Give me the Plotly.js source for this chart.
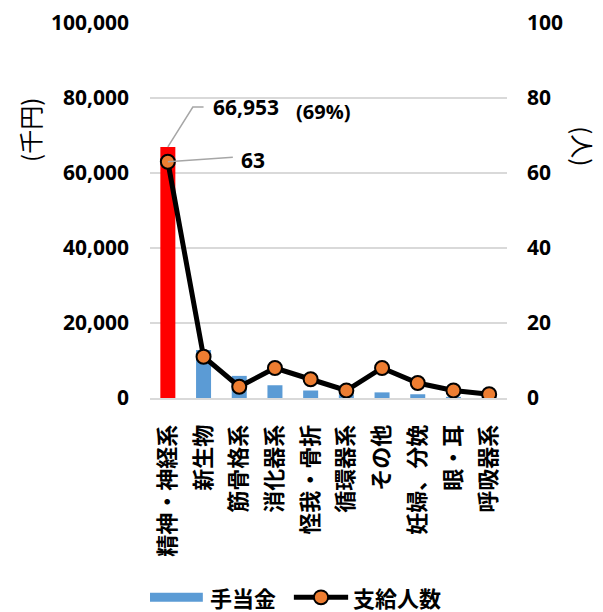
<!DOCTYPE html>
<html>
<head>
<meta charset="utf-8">
<script src="https://cdn.plot.ly/plotly-3.0.1.min.js"></script>
<style>
  html, body { margin: 0; padding: 0; background: #fff; }
  #chart { width: 603px; height: 612px; }
</style>
</head>
<body>
<div id="chart"></div>
<script>
// 疾病分類別の手当金（千円）と支給人数（人）
const categories = ['精神・神経系', '新生物', '筋骨格系', '消化器系', '怪我・骨折',
                    '循環器系', 'その他', '妊婦、分娩', '眼・耳', '呼吸器系'];
const allowance = [66953, 12800, 5900, 3400, 2000, 900, 1500, 1000, 300, 250]; // 手当金（千円）
const recipients = [63, 11, 3, 8, 5, 2, 8, 4, 2, 1];                             // 支給人数（人）
const topShareLabel = '(69%)';
const seriesNames = ['手当金', '支給人数'];

const numFont = 'Open Sans, Noto Sans CJK JP, sans-serif';
const jpFont = 'Noto Sans CJK JP, sans-serif';

// highlight the largest category in red
const barColors = allowance.map((v, i) => i === 0 ? '#ff0000' : '#5b9bd5');

const traces = [
  {
    type: 'bar',
    name: seriesNames[0],
    x: categories,
    y: allowance,
    width: 0.42,
    marker: { color: barColors },
    yaxis: 'y',
    hoverinfo: 'skip'
  },
  {
    type: 'scatter',
    mode: 'lines+markers',
    name: seriesNames[1],
    x: categories,
    y: recipients,
    yaxis: 'y2',
    line: { color: '#000000', width: 5 },
    marker: { color: '#ed7d31', size: 14, line: { color: '#000000', width: 2 } },
    hoverinfo: 'skip'
  }
];

// callout label positions (in axis units)
const barLabelY = 77600;
const lineLabelY = 63.4;

const shapes = [
  // leader from the top of the red bar to its value label
  { type: 'path', xref: 'x', yref: 'y',
    path: `M 0 ${allowance[0]} L 0.7 ${barLabelY} L 1.0 ${barLabelY}`,
    line: { color: '#a6a6a6', width: 1.5 } },
  // leader from the first point to its value label
  { type: 'line', xref: 'x', yref: 'y2',
    x0: 0, y0: recipients[0], x1: 1.82, y1: lineLabelY + 0.8,
    line: { color: '#a6a6a6', width: 1.5 } },
  // legend swatches
  { type: 'rect', xref: 'paper', yref: 'paper',
    x0: 0.0, x1: 0.148, y0: -0.5435, y1: -0.5195,
    fillcolor: '#5b9bd5', line: { width: 0 } },
  { type: 'line', xref: 'paper', yref: 'paper',
    x0: 0.403, x1: 0.555, y0: -0.5315, y1: -0.5315,
    line: { color: '#000000', width: 5 } },
  { type: 'circle', xref: 'paper', yref: 'paper',
    x0: 0.479 - 0.02, x1: 0.479 + 0.02, y0: -0.5315 - 0.0185, y1: -0.5315 + 0.0185,
    fillcolor: '#ed7d31', line: { color: '#000000', width: 2 } }
];

const annotations = [
  { xref: 'x', yref: 'y', x: 1.22, y: barLabelY, xanchor: 'left', yanchor: 'middle',
    text: allowance[0].toLocaleString('en-US'), showarrow: false,
    font: { family: numFont, size: 21, weight: 700, color: '#000' } },
  { xref: 'x', yref: 'y', x: 3.53, y: barLabelY - 1200, xanchor: 'left', yanchor: 'middle',
    text: topShareLabel, showarrow: false,
    font: { family: numFont, size: 20, weight: 700, color: '#000' } },
  { xref: 'x', yref: 'y2', x: 2.0, y: lineLabelY, xanchor: 'left', yanchor: 'middle',
    text: String(recipients[0]), showarrow: false,
    font: { family: numFont, size: 21, weight: 700, color: '#000' } },
  // axis titles
  { xref: 'paper', yref: 'paper', x: -0.336, y: 0.715, textangle: -90,
    xanchor: 'center', yanchor: 'middle',
    text: '(千円)', showarrow: false,
    font: { family: jpFont, size: 24, color: '#000' } },
  { xref: 'paper', yref: 'paper', x: 1.215, y: 0.672, textangle: 90,
    xanchor: 'center', yanchor: 'middle',
    text: '(人)', showarrow: false,
    font: { family: jpFont, size: 24, color: '#000' } },
  // legend labels
  { xref: 'paper', yref: 'paper', x: 0.162, y: -0.5315, xanchor: 'left', yanchor: 'middle',
    text: seriesNames[0], showarrow: false,
    font: { family: jpFont, size: 22, weight: 700, color: '#000' } },
  { xref: 'paper', yref: 'paper', x: 0.562, y: -0.5315, xanchor: 'left', yanchor: 'middle',
    text: seriesNames[1], showarrow: false,
    font: { family: jpFont, size: 22, weight: 700, color: '#000' } }
];

const layout = {
  width: 603,
  height: 612,
  margin: { l: 150, r: 96, t: 23, b: 214, pad: 0, autoexpand: false },
  paper_bgcolor: '#ffffff',
  plot_bgcolor: '#ffffff',
  showlegend: false,
  xaxis: {
    type: 'category',
    range: [-0.5, categories.length - 0.5],
    automargin: false,
    tickangle: -90,
    ticks: '',
    ticklabelstandoff: 16,
    tickfont: { family: jpFont, size: 22, weight: 700, color: '#000' },
    showline: true,
    linecolor: '#d9d9d9',
    linewidth: 2,
    showgrid: false,
    fixedrange: true
  },
  yaxis: {
    automargin: false,
    range: [0, 100000],
    dtick: 20000,
    tickformat: ',d',
    ticks: '',
    ticklabelstandoff: 20,
    tickfont: { family: numFont, size: 21, weight: 700, color: '#000' },
    showgrid: true,
    gridcolor: '#d9d9d9',
    gridwidth: 1.5,
    zeroline: false,
    showline: false,
    fixedrange: true
  },
  yaxis2: {
    automargin: false,
    overlaying: 'y',
    side: 'right',
    range: [0, 100],
    dtick: 20,
    ticks: '',
    ticklabelstandoff: 19,
    tickfont: { family: numFont, size: 21, weight: 700, color: '#000' },
    showgrid: false,
    zeroline: false,
    showline: false,
    fixedrange: true
  },
  shapes: shapes,
  annotations: annotations
};

Plotly.newPlot('chart', traces, layout, { displayModeBar: false, staticPlot: true });
</script>
</body>
</html>
